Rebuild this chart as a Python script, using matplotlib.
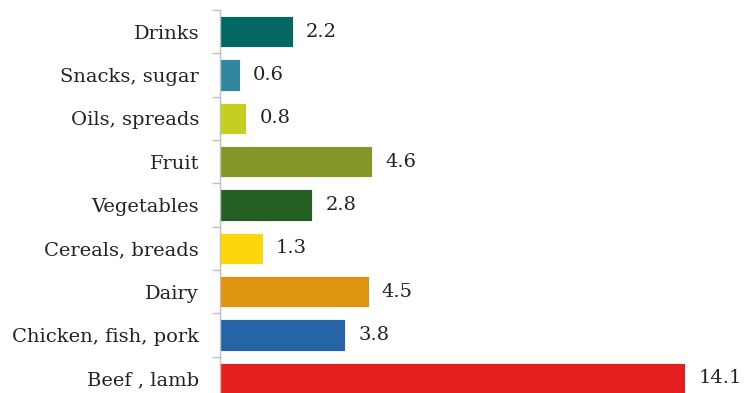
import matplotlib
matplotlib.use("Agg")
import matplotlib.pyplot as plt
import numpy as np

categories = ["Drinks", "Snacks, sugar", "Oils, spreads", "Fruit", "Vegetables",
              "Cereals, breads", "Dairy", "Chicken, fish, pork", "Beef , lamb"]
values = [2.2, 0.6, 0.8, 4.6, 2.8, 1.3, 4.5, 3.8, 14.1]
colors = ["#006762", "#31879f", "#c4cf20", "#84982a", "#255f23",
          "#fdd70c", "#de9311", "#2564a5", "#e31f1f"]

plt.rcParams["font.family"] = ["DejaVu Serif"]

fig = plt.figure(figsize=(7.44, 3.93), dpi=100)
ax = fig.add_axes([220 / 744, (393 - 400) / 393, 515 / 744, 390 / 393])

y = np.arange(len(categories))
ax.barh(y, values, height=0.73, color=colors, edgecolor="white", linewidth=0.6)

ax.set_xlim(0, 15.6)
ax.set_ylim(len(categories) - 0.5, -0.5)

for yi, v in zip(y, values):
    ax.text(v + 0.4, yi, f"{v:.1f}", va="center", ha="left", fontsize=14, color="#222222")

ax.set_yticks(y)
ax.set_yticklabels(categories, fontsize=14, color="#222222")
ax.set_yticks(np.arange(len(categories) + 1) - 0.5, minor=True)
ax.tick_params(axis="y", which="major", length=0, pad=15)
ax.tick_params(axis="y", which="minor", length=6, width=1, color="#bfbfbf")
ax.set_xticks([])

for side in ["top", "right", "bottom"]:
    ax.spines[side].set_visible(False)
ax.spines["left"].set_color("#bfbfbf")
ax.spines["left"].set_linewidth(1)

fig.savefig("out.png", dpi=100)
